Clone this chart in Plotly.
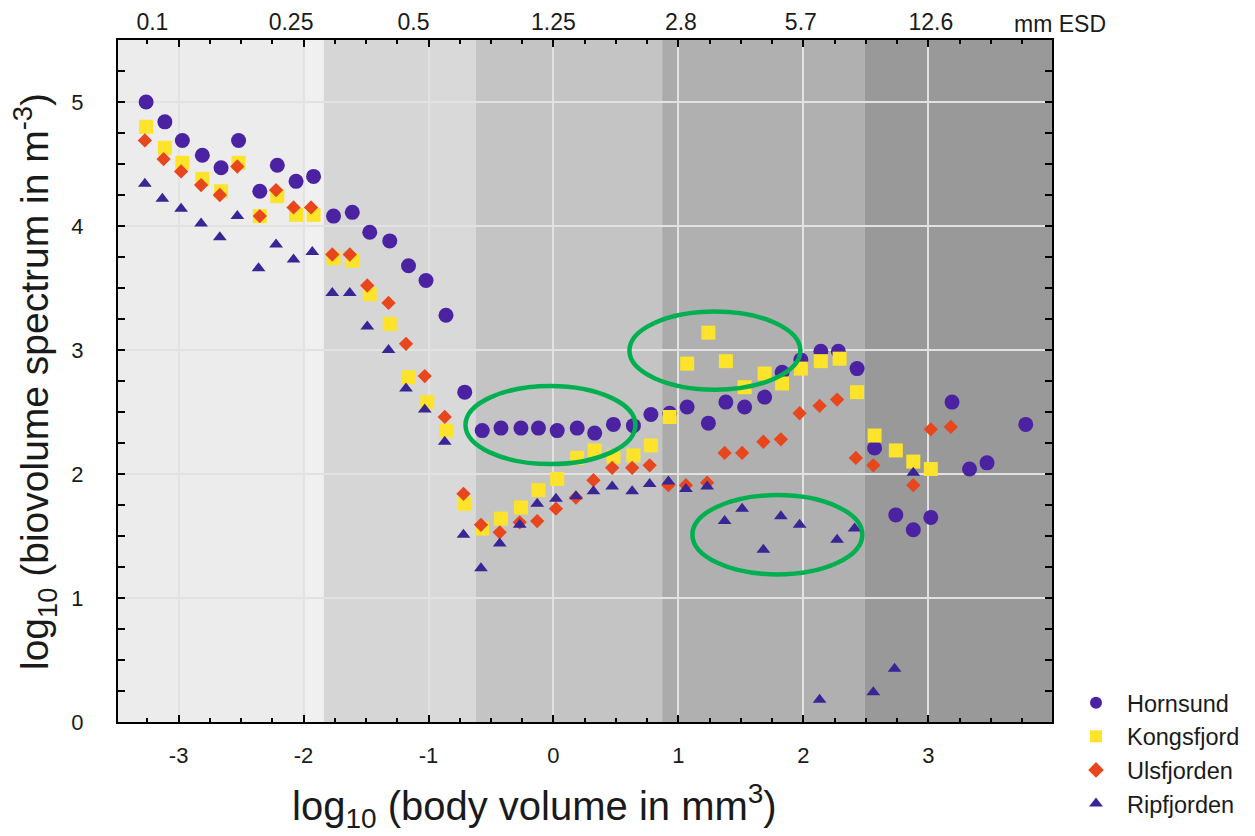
import plotly.graph_objects as go

# ---------------- data ----------------
horn_x = [-3.26, -3.11, -2.97, -2.81, -2.66, -2.52, -2.35, -2.21, -2.06, -1.92, -1.76, -1.61, -1.47, -1.31,
          -1.16, -1.02, -0.86, -0.71, -0.57, -0.42, -0.26, -0.12, 0.03, 0.19, 0.33, 0.48, 0.64, 0.78, 0.93,
          1.07, 1.24, 1.38, 1.53, 1.69, 1.83, 1.98, 2.14, 2.28, 2.43, 2.57, 2.74, 2.88, 3.02, 3.19, 3.33,
          3.47, 3.78]
horn_y = [5.00, 4.84, 4.69, 4.57, 4.47, 4.69, 4.28, 4.49, 4.36, 4.40, 4.08, 4.11, 3.95, 3.88,
          3.68, 3.56, 3.28, 2.66, 2.35, 2.37, 2.37, 2.37, 2.35, 2.37, 2.33, 2.40, 2.39, 2.48, 2.49,
          2.54, 2.41, 2.58, 2.54, 2.62, 2.82, 2.92, 2.99, 2.99, 2.85, 2.21, 1.67, 1.55, 1.65, 2.58, 2.04,
          2.09, 2.40]

kong_x = [-3.26, -3.11, -2.97, -2.81, -2.66, -2.52, -2.35, -2.21, -2.06, -1.92, -1.76, -1.61, -1.47, -1.31,
          -1.16, -1.01, -0.86, -0.71, -0.57, -0.42, -0.26, -0.12, 0.03, 0.19, 0.33, 0.48, 0.64, 0.78, 0.93,
          1.07, 1.24, 1.38, 1.53, 1.69, 1.83, 1.98, 2.14, 2.29, 2.43, 2.57, 2.74, 2.88, 3.02]
kong_y = [4.80, 4.63, 4.51, 4.38, 4.28, 4.51, 4.08, 4.24, 4.09, 4.09, 3.74, 3.72, 3.45, 3.21,
          2.78, 2.58, 2.35, 1.76, 1.56, 1.64, 1.73, 1.87, 1.96, 2.13, 2.19, 2.14, 2.15, 2.23, 2.46,
          2.89, 3.14, 2.91, 2.70, 2.81, 2.73, 2.85, 2.91, 2.93, 2.66, 2.31, 2.19, 2.10, 2.04]

uls_x = [-3.27, -3.12, -2.98, -2.82, -2.67, -2.53, -2.35, -2.22, -2.08, -1.94, -1.77, -1.63, -1.49, -1.32,
         -1.18, -1.03, -0.87, -0.72, -0.58, -0.43, -0.27, -0.13, 0.02, 0.18, 0.32, 0.47, 0.63, 0.77, 0.92,
         1.06, 1.23, 1.37, 1.51, 1.68, 1.82, 1.97, 2.13, 2.27, 2.42, 2.56, 2.88, 3.02, 3.18]
uls_y = [4.69, 4.54, 4.44, 4.33, 4.25, 4.48, 4.08, 4.29, 4.15, 4.15, 3.77, 3.77, 3.52, 3.38,
         3.05, 2.79, 2.46, 1.84, 1.59, 1.53, 1.61, 1.62, 1.72, 1.81, 1.95, 2.05, 2.05, 2.07, 1.91,
         1.91, 1.93, 2.17, 2.17, 2.26, 2.28, 2.49, 2.55, 2.60, 2.13, 2.07, 1.91, 2.36, 2.38]

rip_x = [-3.27, -3.13, -2.98, -2.82, -2.67, -2.53, -2.36, -2.22, -2.08, -1.93, -1.77, -1.63, -1.49, -1.32,
         -1.18, -1.03, -0.87, -0.72, -0.58, -0.43, -0.27, -0.13, 0.02, 0.18, 0.32, 0.47, 0.63, 0.77, 0.92,
         1.06, 1.23, 1.37, 1.51, 1.68, 1.82, 1.97, 2.13, 2.27, 2.41, 2.56, 2.73, 2.88]
rip_y = [4.34, 4.22, 4.14, 4.02, 3.91, 4.08, 3.66, 3.85, 3.73, 3.79, 3.46, 3.46, 3.19, 3.00,
         2.69, 2.52, 2.26, 1.51, 1.24, 1.44, 1.59, 1.76, 1.80, 1.82, 1.86, 1.90, 1.86, 1.92, 1.94,
         1.88, 1.90, 1.62, 1.72, 1.39, 1.66, 1.59, 0.18, 1.47, 1.56, 0.24, 0.43, 2.01]

series_names = ["Hornsund", "Kongsfjord", "Ulsfjorden", "Ripfjorden"]

x_tick_vals = [-3, -2, -1, 0, 1, 2, 3, 4]
x_tick_text = ["-3", "-2", "-1", "0", "1", "2", "3", "4"]
y_tick_vals = [0, 1, 2, 3, 4, 5]

esd_labels = ["0.1", "0.25", "0.5", "1.25", "2.8", "5.7", "12.6"]
esd_pos = [-3.21, -2.10, -1.12, 0.0, 1.02, 1.98, 3.02]

# size-class shading bands (edges in log10 body volume) and their grey levels
band_edges = [-3.485, -1.84, -0.624, 0.872, 2.488, 3.99]
band_colors = ["#ececec", "#d6d6d6", "#c4c4c4", "#b0b0b0", "#999999"]
strip_edges = [(-2.0, -1.84), (-1.0, -0.624), (0.872, 1.0)]
strip_colors = ["#f0f0f0", "#d9d9d9", "#ababab"]

# highlighted groups (ellipses, data coords)
ellipses = [(-0.704, 2.08, 0.656, 2.71), (0.608, 2.68, 1.976, 3.31), (1.112, 1.19, 2.472, 1.83)]

X_RANGE = [-3.485, 3.99]
Y_RANGE = [0, 5.5]

FONT = "Liberation Sans, Arial, sans-serif"
NARROW = "Liberation Sans Narrow, Arial Narrow, Liberation Sans, sans-serif"

# the page body adds an 8 px offset; plot area lands at screen x 118..1052, y 40..722
PX_L, PX_B, PX_W, PX_H = 118, 722, 934, 682

fig = go.Figure()

styles = [
    dict(symbol="circle", size=15, color="#4a22a2"),
    dict(symbol="square", size=14, color="#fde42a"),
    dict(symbol="diamond", size=11, color="#e8461c"),
    dict(symbol="triangle-up", size=12, color="#3a2595"),
]
for name, xs, ys, st in zip(series_names, [horn_x, kong_x, uls_x, rip_x], [horn_y, kong_y, uls_y, rip_y], styles):
    fig.add_trace(go.Scatter(
        x=xs, y=ys, mode="markers", name=name,
        marker=dict(symbol=st["symbol"], size=st["size"], color=st["color"], line=dict(width=0)),
    ))

# invisible trace on the top axis for ESD labels
fig.add_trace(go.Scatter(x=[esd_pos[0]], y=[0], xaxis="x2", mode="markers",
                         marker=dict(opacity=0), showlegend=False, hoverinfo="skip"))

shapes = []
for i, c in enumerate(band_colors):
    shapes.append(dict(type="rect", xref="x", yref="paper", x0=band_edges[i], x1=band_edges[i + 1],
                       y0=0, y1=1, fillcolor=c, line=dict(width=0), layer="below"))
for (a, b), c in zip(strip_edges, strip_colors):
    shapes.append(dict(type="rect", xref="x", yref="paper", x0=a, x1=b, y0=0, y1=1,
                       fillcolor=c, line=dict(width=0), layer="below"))
for (x0, y0, x1, y1) in ellipses:
    shapes.append(dict(type="circle", xref="x", yref="y", x0=x0, y0=y0, x1=x1, y1=y1,
                       line=dict(color="#00b050", width=4.5), layer="above"))

axis_common = dict(
    showline=True, linecolor="black", linewidth=2, mirror="allticks",
    ticks="inside", ticklen=7, tickwidth=2, tickcolor="black",
    showgrid=True, gridcolor="#e2e2e2", gridwidth=1.5, zeroline=False, automargin=False,
    minor=dict(dtick=0.25, ticks="inside", ticklen=4, tickwidth=1.5, tickcolor="black", showgrid=False),
)

fig.update_layout(
    width=1247, height=828,
    margin=dict(l=110, r=203, t=32, b=114, autoexpand=False),
    paper_bgcolor="white", plot_bgcolor="white",
    font=dict(family=FONT, color="#1a1a1a"),
    shapes=shapes,
    xaxis=dict(range=X_RANGE, tickvals=x_tick_vals, ticktext=x_tick_text,
               tickfont=dict(size=22, family=FONT), ticklabelstandoff=13, **axis_common),
    yaxis=dict(range=Y_RANGE, tickvals=y_tick_vals,
               tickfont=dict(size=22, family=FONT), ticklabelstandoff=28, **axis_common),
    xaxis2=dict(overlaying="x", side="top", range=X_RANGE, tickvals=esd_pos, ticktext=esd_labels,
                showgrid=False, showline=False, ticks="", zeroline=False, automargin=False,
                tickfont=dict(size=23, family=NARROW), ticklabelstandoff=4),
    legend=dict(x=(1065 - PX_L) / PX_W, xanchor="left", y=(PX_B - 681) / PX_H, yanchor="top",
                font=dict(size=23.5, family=FONT, color="#1a1a1a"), bgcolor="rgba(0,0,0,0)",
                itemsizing="constant", itemwidth=52, tracegroupgap=0),
    annotations=[
        dict(text="mm ESD", xref="paper", yref="paper", x=(1060 - PX_L) / PX_W, y=1.0,
             xanchor="center", yanchor="bottom", yshift=2, borderpad=0, showarrow=False,
             font=dict(size=23, family=NARROW, color="#1a1a1a")),
        dict(text="log<sub>10</sub> (body volume in mm<sup>3</sup>)", xref="paper", yref="paper",
             x=(534 - PX_L) / PX_W, y=(PX_B - 806) / PX_H, xanchor="center", yanchor="middle",
             showarrow=False, font=dict(size=40, family=FONT, color="#1a1a1a")),
        dict(text="log<sub>10</sub> (biovolume spectrum in m<sup>-3</sup>)", xref="paper", yref="paper",
             x=(35 - PX_L) / PX_W, y=(PX_B - 382) / PX_H, xanchor="center", yanchor="middle", textangle=-90,
             showarrow=False, font=dict(size=39, family=FONT, color="#1a1a1a")),
    ],
)

fig.write_html("out.html")
